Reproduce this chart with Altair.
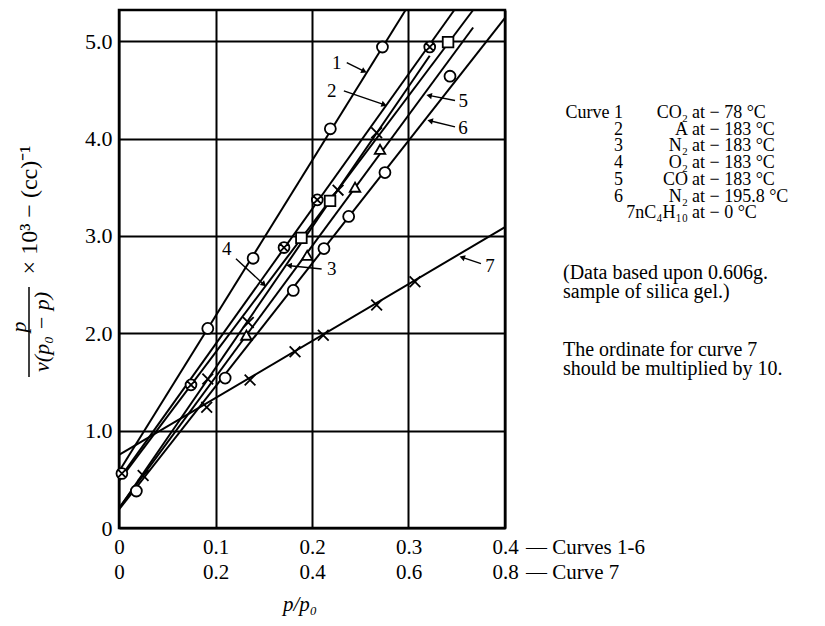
import altair as alt
import pandas as pd
import numpy as np

FONT = "Liberation Serif"

# ---------------- straight lines (end points) ----------------
curve_ids = ["1", "2", "3", "4", "5", "6", "7"]
line_x0 = [0.0, 0.0, 0.0, 0.0, 0.0, 0.0, 0.0]
line_y0 = [0.58, 0.50, 0.20, 0.485, 0.205, 0.19, 0.75]
line_x1 = [0.297, 0.3475, 0.322, 0.367, 0.367, 0.400, 0.400]
line_y1 = [5.32, 5.32, 4.85, 5.32, 5.14, 5.24, 3.09]

# ---------------- measured points ----------------
c1_x = [0.092, 0.139, 0.219, 0.273]
c1_y = [2.05, 2.77, 4.10, 4.94]
c2_x = [0.003, 0.0746, 0.171, 0.2055, 0.322]
c2_y = [0.56, 1.47, 2.88, 3.37, 4.94]
c3_x = [0.025, 0.092, 0.134, 0.227, 0.267]
c3_y = [0.54, 1.53, 2.11, 3.47, 4.06]
c4_x = [0.189, 0.2187, 0.341]
c4_y = [2.98, 3.36, 4.99]
c5_x = [0.132, 0.195, 0.2446, 0.2705]
c5_y = [1.98, 2.80, 3.50, 3.89]
c6_x = [0.018, 0.110, 0.1806, 0.2124, 0.238, 0.2756, 0.343]
c6_y = [0.38, 1.54, 2.44, 2.87, 3.20, 3.65, 4.64]
c7_x = [0.0909, 0.1358, 0.1824, 0.2117, 0.267, 0.3067]
c7_y = [1.24, 1.52, 1.81, 1.98, 2.29, 2.53]
curve_markers = ["circle", "otimes", "cross", "square", "triangle", "circle", "cross"]

# ---------------- curve number labels and pointers ----------------
lab_ids = ["1", "2", "3", "4", "5", "6", "7"]
lab_x = [0.2256, 0.2204, 0.2204, 0.1116, 0.3568, 0.3565, 0.3845]
lab_y = [4.78, 4.49, 2.66, 2.87, 4.39, 4.11, 2.69]
ptr_x0 = [0.236, 0.233, 0.210, 0.1212, 0.3482, 0.3482, 0.3751]
ptr_y0 = [4.78, 4.49, 2.66, 2.766, 4.39, 4.12, 2.715]
ptr_x1 = [0.2532, 0.2739, 0.1772, 0.1495, 0.3223, 0.3233, 0.3565]
ptr_y1 = [4.694, 4.35, 2.694, 2.507, 4.44, 4.18, 2.777]

# ---------------- axis ticks ----------------
x_ticks = [0.0, 0.1, 0.2, 0.3, 0.4]
y_ticks = [0, 1, 2, 3, 4, 5]

# ---------------- legend text ----------------
legend_nums = ["Curve 1", "2", "3", "4", "5", "6"]
legend_gases = ["CO\u2082", "A", "N\u2082", "O\u2082", "CO", "N\u2082", "7nC\u2084H\u2081\u2080"]
legend_temps = ["78 \u00b0C", "183 \u00b0C", "183 \u00b0C", "183 \u00b0C", "183 \u00b0C", "195.8 \u00b0C", "0 \u00b0C"]
note1 = ["(Data based upon 0.606g.", "sample of silica gel.)"]
note2 = ["The ordinate for curve 7", "should be multiplied by 10."]

W, H = 386, 518
Y_MAX = 5.32

# ---------------- tables ----------------
lines_df = pd.DataFrame({
    "curve": curve_ids * 2,
    "x": line_x0 + line_x1,
    "y": line_y0 + line_y1,
    "order": [0] * 7 + [1] * 7,
})

pts = []
for cid, xs, ys, mk in zip(curve_ids,
                           [c1_x, c2_x, c3_x, c4_x, c5_x, c6_x, c7_x],
                           [c1_y, c2_y, c3_y, c4_y, c5_y, c6_y, c7_y],
                           curve_markers):
    for xv, yv in zip(xs, ys):
        pts.append({"curve": cid, "x": xv, "y": yv, "marker": mk})
pts_df = pd.DataFrame(pts)

lab_df = pd.DataFrame({"label": lab_ids, "x": lab_x, "y": lab_y})
ptr_df = pd.DataFrame({"label": lab_ids * 2, "x": ptr_x0 + ptr_x1, "y": ptr_y0 + ptr_y1,
                       "order": [0] * 7 + [1] * 7})
px_per_x = W / 0.4
px_per_y = H / Y_MAX
dxp = (np.array(ptr_x1) - np.array(ptr_x0)) * px_per_x
dyp = -(np.array(ptr_y1) - np.array(ptr_y0)) * px_per_y
head_df = pd.DataFrame({"x": ptr_x1, "y": ptr_y1,
                        "ang": np.mod(np.degrees(np.arctan2(dxp, -dyp)), 360)})

one = pd.DataFrame({"k": [0]})

x_lab_expr = ("[datum.value == 0 ? '0' : format(datum.value, '.1f'), "
              "datum.value == 0 ? '0' : format(datum.value * 2, '.1f')]")
y_lab_expr = "datum.value == 0 ? '0' : format(datum.value, '.1f')"

X = alt.X("x:Q", scale=alt.Scale(domain=[0, 0.4], nice=False, zero=False),
          axis=alt.Axis(values=x_ticks, labelExpr=x_lab_expr, title="",
                        labelLineHeight=25, labelPadding=8,
                        labelOverlap=False, labelFlush=False, labelBound=False))
Y = alt.Y("y:Q", scale=alt.Scale(domain=[0, Y_MAX], nice=False, zero=False),
          axis=alt.Axis(values=y_ticks, labelExpr=y_lab_expr, title="", labelFontSize=22,
                        labelPadding=7, labelOverlap=False, labelFlush=False, labelBound=False))

lines = alt.Chart(lines_df).mark_line(color="black", strokeWidth=2).encode(
    x=X, y=Y, detail="curve:N", order="order:Q")

otimes = ("M -1 0 A 1 1 0 1 0 1 0 A 1 1 0 1 0 -1 0 Z "
          "M -0.7 -0.7 L 0.7 0.7 M -0.7 0.7 L 0.7 -0.7")
xpath = "M -1 -1 L 1 1 M -1 1 L 1 -1"
points = alt.Chart(pts_df).mark_point(filled=False, fill="white", fillOpacity=1,
                                      stroke="black", strokeWidth=1.8, opacity=1).encode(
    x=X, y=Y,
    shape=alt.Shape("marker:N", legend=None,
                    scale=alt.Scale(domain=["circle", "otimes", "cross", "square", "triangle"],
                                    range=["circle", otimes, xpath, "square", "triangle-up"])),
    size=alt.Size("marker:N", legend=None,
                  scale=alt.Scale(domain=["circle", "otimes", "cross", "square", "triangle"],
                                  range=[120, 110, 180, 100, 110])),
)

pointers = alt.Chart(ptr_df).mark_line(color="black", strokeWidth=1.4).encode(
    x=X, y=Y, detail="label:N", order="order:Q")
heads = alt.Chart(head_df).mark_point(shape="triangle", filled=True, color="black",
                                      size=40, opacity=1).encode(
    x=X, y=Y, angle=alt.Angle("ang:Q", scale=None))
labels = alt.Chart(lab_df).mark_text(font=FONT, fontSize=19, color="black",
                                     align="center", baseline="middle").encode(
    x=X, y=Y, text="label:N")


def txt(text, x, y, size=21, align="center", baseline="middle", angle=0, style="normal", lh=None):
    kw = dict(text=text, font=FONT, fontSize=size, align=align, baseline=baseline,
              color="black", fontStyle=style)
    if angle:
        kw["angle"] = angle
    if lh:
        kw["lineHeight"] = lh
    return alt.Chart(one).mark_text(**kw).encode(x=alt.value(x), y=alt.value(y))


# ---------- y-axis title built from text pieces (view coordinates) ----------
yt_main = txt("\u00d7  10\u00b3  \u2212  (cc)\u207b\u00b9", -89, 200, size=24, angle=270)
yt_num = txt("p", -100, 317, size=22, angle=270, style="italic")
yt_bar = alt.Chart(one).mark_rule(color="black", strokeWidth=1.5).encode(
    x=alt.value(-90), y=alt.value(277), y2=alt.value(367))
yt_den = txt("v(p\u2080 \u2212 p)", -77, 322, size=22, angle=270, style="italic")

# ---------- x-axis title and texts next to x labels ----------
xt = txt("p/p\u2080", 181, 595, size=21, style="italic")
xr1 = txt("\u2014 Curves 1-6", 407, 538, align="left")
xr2 = txt("\u2014 Curve 7", 407, 563, align="left")

# ---------- legend block ----------
LH = 16.7
leg1 = txt(legend_nums, 504, 94, size=18, align="right", baseline="top", lh=LH)
leg2 = txt(legend_gases, 569, 94, size=18, align="right", baseline="top", lh=LH)
leg3 = txt(["at \u2212 " + t for t in legend_temps], 573, 94, size=18, align="left",
           baseline="top", lh=LH)
nt1 = txt(note1, 444, 253, size=20, align="left", baseline="top", lh=19)
nt2 = txt(note2, 444, 330, size=20, align="left", baseline="top", lh=19)

chart = alt.layer(
    lines, pointers, heads, points, labels,
    yt_main, yt_num, yt_bar, yt_den, xt, xr1, xr2,
    leg1, leg2, leg3, nt1, nt2,
).properties(
    width=W, height=H,
    autosize=alt.AutoSizeParams(type="none"),
    padding={"left": 111, "top": 2, "right": 300, "bottom": 94},
    background="white",
).configure_view(
    stroke="black", strokeWidth=2.5
).configure_axis(
    grid=True, gridColor="black", gridWidth=2, gridOpacity=1,
    domain=False, ticks=False,
    labelFont=FONT, labelFontSize=21, labelColor="black",
    titleFont=FONT, titleColor="black",
)

chart.save("out.html", embed_options={"renderer": "svg", "actions": False})
